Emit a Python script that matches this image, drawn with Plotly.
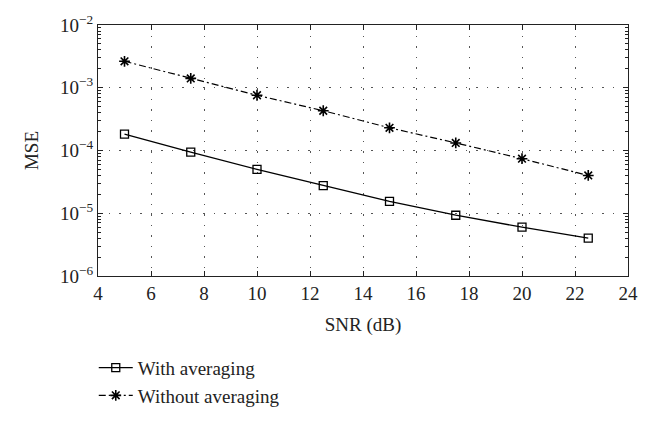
import plotly.graph_objects as go

snr = [5, 7.5, 10, 12.5, 15, 17.5, 20, 22.5]
mse_with = [1.82e-4, 9.4e-5, 5.0e-5, 2.75e-5, 1.55e-5, 9.3e-6, 6.0e-6, 4.0e-6]
mse_without = [2.64e-3, 1.41e-3, 7.6e-4, 4.3e-4, 2.3e-4, 1.32e-4, 7.4e-5, 4.0e-5]

x_ticks = [4, 6, 8, 10, 12, 14, 16, 18, 20, 22, 24]
y_tickvals = [1e-6, 1e-5, 1e-4, 1e-3, 1e-2]
y_ticktext = ["10<sup>−6</sup>", "10<sup>−5</sup>", "10<sup>−4</sup>", "10<sup>−3</sup>", "10<sup>−2</sup>"]
y_minor = [m * 10 ** e for e in range(-6, -2) for m in range(2, 10)]

FONT = "Liberation Serif"

fig = go.Figure()
fig.add_trace(go.Scatter(
    x=snr, y=mse_with, mode="lines+markers", name="With averaging",
    line=dict(color="black", width=1.3),
    marker=dict(symbol="square-open", size=8, color="black", line=dict(width=1.3)),
))
fig.add_trace(go.Scatter(
    x=snr, y=mse_without, mode="lines+markers", name="Without averaging",
    line=dict(color="black", width=1.2, dash="7px,3px,2px,3px"),
    marker=dict(symbol="asterisk-open", size=9, color="black", line=dict(width=1.6, color="black")),
))

fig.update_layout(
    width=651, height=427,
    margin=dict(l=98, r=23, t=20, b=138),
    paper_bgcolor="white", plot_bgcolor="white",
    font=dict(family=FONT, size=19, color="#222"),
    showlegend=True,
    legend=dict(
        orientation="v", x=-0.008, xanchor="left", y=-0.29, yanchor="top",
        font=dict(family=FONT, size=19, color="#222"),
        bgcolor="rgba(0,0,0,0)", borderwidth=0, itemwidth=34, tracegroupgap=0,
    ),
)

fig.update_xaxes(
    range=[4, 24], tickmode="array", tickvals=x_ticks,
    ticks="inside", ticklen=5, tickwidth=1, tickcolor="#222",
    showline=True, linecolor="#222", linewidth=1.2, mirror="allticks",
    showgrid=True, gridcolor="#555", griddash="1.5px,9px", gridwidth=1,
    zeroline=False,
    title=dict(text="SNR (dB)", standoff=14, font=dict(size=19)),
    tickfont=dict(size=19),
)
fig.update_yaxes(
    type="log", range=[-6, -2], tickmode="array", tickvals=y_tickvals, ticktext=y_ticktext,
    ticks="inside", ticklen=5, tickwidth=1, tickcolor="#222",
    showline=True, linecolor="#222", linewidth=1.2, mirror="allticks",
    showgrid=True, gridcolor="#555", griddash="1.5px,9px", gridwidth=1,
    zeroline=False,
    minor=dict(tickmode="array", tickvals=y_minor, ticks="inside", ticklen=3,
               tickcolor="#222", showgrid=False),
    title=dict(text="MSE", standoff=16, font=dict(size=19)),
    tickfont=dict(size=19),
)

fig.write_html("out.html")
